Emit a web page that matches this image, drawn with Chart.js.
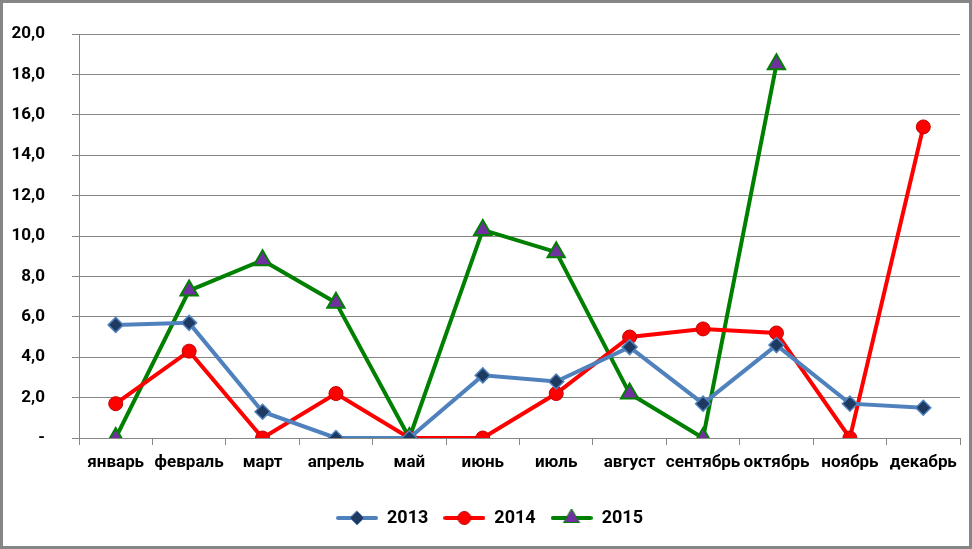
<!DOCTYPE html>
<html>
<head>
<meta charset="utf-8">
<script src="https://cdn.jsdelivr.net/npm/chart.js@4"></script>
<style>
  body { margin: 0; background: #fff; }
  #wrap { position: relative; width: 972px; height: 549px; }
  #frame { position: absolute; left: 0; top: 0; width: 972px; height: 549px; box-sizing: border-box; border: 3px solid #868686; pointer-events: none; }
</style>
</head>
<body>
<div id="wrap">
  <canvas id="myChart" width="972" height="549"></canvas>
  <div id="frame"></div>
</div>
<script>
let months = ["январь", "февраль", "март", "апрель", "май", "июнь", "июль", "август", "сентябрь", "октябрь", "ноябрь", "декабрь"];
let values2013 = [5.6, 5.7, 1.3, 0, 0, 3.1, 2.8, 4.5, 1.7, 4.6, 1.7, 1.5];
let values2014 = [1.7, 4.3, 0, 2.2, 0, 0, 2.2, 5.0, 5.4, 5.2, 0, 15.4];
let values2015 = [0, 7.3, 8.8, 6.7, 0, 10.3, 9.2, 2.2, 0, 18.5, null, null];
let yTicks = [0, 2, 4, 6, 8, 10, 12, 14, 16, 18, 20];

const fontFamily = "Roboto, 'DejaVu Sans', sans-serif";
const gridColor = "#868686";

// small picture for the legend: line with the marker in the middle
function legendIcon(lineColor, style, fill, border, r) {
    const c = document.createElement("canvas");
    c.width = 42;
    c.height = 18;
    const ctx = c.getContext("2d");
    ctx.strokeStyle = lineColor;
    ctx.lineWidth = 4;
    ctx.lineCap = "round";
    ctx.beginPath();
    ctx.moveTo(2, 9);
    ctx.lineTo(40, 9);
    ctx.stroke();
    ctx.fillStyle = fill;
    ctx.strokeStyle = border;
    ctx.lineWidth = 1;
    ctx.beginPath();
    if (style === "rectRot") {
        ctx.moveTo(21, 9 - r); ctx.lineTo(21 + r, 9); ctx.lineTo(21, 9 + r); ctx.lineTo(21 - r, 9);
    } else if (style === "circle") {
        ctx.arc(21, 9, r, 0, Math.PI * 2);
    } else {
        ctx.moveTo(21, 9 - r); ctx.lineTo(21 + r * 0.87, 9 + r * 0.5); ctx.lineTo(21 - r * 0.87, 9 + r * 0.5);
    }
    ctx.closePath();
    ctx.fill();
    ctx.stroke();
    return c;
}

const icons = [
    legendIcon("#4F81BD", "rectRot", "#1F3A60", "#4F81BD", 7),
    legendIcon("#FF0000", "circle", "#FF0000", "#C00000", 6.5),
    legendIcon("#008000", "triangle", "#7030A0", "#008000", 9)
];

const chartData = {
    labels: months,
    datasets: [{
        label: "2013",
        data: values2013,
        borderColor: "#4F81BD",
        borderWidth: 4,
        pointStyle: "rectRot",
        pointRadius: 7.5,
        pointBackgroundColor: "#1F3A60",
        pointBorderColor: "#4F81BD",
        pointBorderWidth: 1.5
    }, {
        label: "2014",
        data: values2014,
        borderColor: "#FF0000",
        borderWidth: 4,
        pointStyle: "circle",
        pointRadius: 7,
        pointBackgroundColor: "#FF0000",
        pointBorderColor: "#C00000",
        pointBorderWidth: 1
    }, {
        label: "2015",
        data: values2015,
        borderColor: "#008000",
        borderWidth: 4,
        pointStyle: "triangle",
        pointRadius: 10,
        pointBackgroundColor: "#7030A0",
        pointBorderColor: "#008000",
        pointBorderWidth: 2
    }]
};

const chartConfig = {
    type: "line",
    data: chartData,
    options: {
        responsive: false,
        animation: false,
        layout: {
            padding: { left: 11, right: 4, top: 34, bottom: 12 }
        },
        plugins: {
            tooltip: { enabled: false },
            legend: {
                position: "bottom",
                labels: {
                    usePointStyle: true,
                    pointStyleWidth: 42,
                    padding: 15,
                    color: "#000",
                    font: { family: fontFamily, size: 18, weight: "bold" },
                    generateLabels: (chart) => chart.data.datasets.map((ds, i) => ({
                        text: ds.label,
                        pointStyle: icons[i],
                        fillStyle: "transparent",
                        strokeStyle: "transparent",
                        lineWidth: 0,
                        datasetIndex: i
                    }))
                }
            }
        },
        scales: {
            x: {
                offset: true,
                afterFit: (axis) => { axis.height = 56; },
                grid: {
                    offset: true,
                    drawOnChartArea: false,
                    tickLength: 7,
                    color: gridColor
                },
                border: { color: gridColor, width: 1 },
                ticks: {
                    padding: 8,
                    color: "#000",
                    maxRotation: 0,
                    autoSkip: false,
                    font: { family: fontFamily, size: 17, weight: "bold" }
                }
            },
            y: {
                min: 0,
                max: 20,
                afterBuildTicks: (axis) => { axis.ticks = yTicks.map(v => ({ value: v })); },
                afterFit: (axis) => {
                    axis.width = 68;
                    axis.paddingTop = 0;
                    axis.paddingBottom = 0;
                },
                grid: { tickLength: 7, color: gridColor },
                border: { color: gridColor, width: 1 },
                ticks: {
                    padding: 27,
                    color: "#000",
                    font: { family: fontFamily, size: 17, weight: "bold" },
                    callback: (v) => v === 0 ? "-" : v.toFixed(1).replace(".", ",")
                }
            }
        }
    }
};

const myChart = new Chart(document.getElementById("myChart"), chartConfig);
</script>
</body>
</html>
